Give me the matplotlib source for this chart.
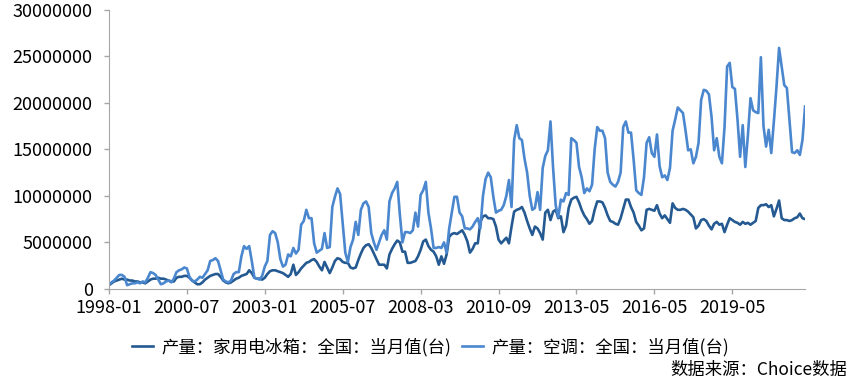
import matplotlib
matplotlib.use("Agg")
import matplotlib.pyplot as plt
from matplotlib.ticker import FuncFormatter, MultipleLocator

plt.rcParams['font.family'] = ['Noto Sans CJK SC', 'DejaVu Sans']

# 月度产量（百万台），按类别轴顺序排列
fridge = [
    0.4, 0.6, 0.8, 0.9, 1.0, 1.1, 1.0, 1.0, 0.9, 0.9,
    0.8, 0.8, 0.7, 0.7, 0.6, 0.8, 1.0, 1.1, 1.1, 1.2,
    1.1, 1.1, 1.0, 0.9, 0.8, 0.8, 1.2, 1.3, 1.3, 1.4,
    1.4, 1.2, 0.9, 0.7, 0.5, 0.5, 0.7, 1.0, 1.2, 1.4,
    1.5, 1.6, 1.6, 1.3, 0.9, 0.7, 0.6, 0.7, 0.9, 1.1,
    1.2, 1.4, 1.5, 1.6, 2.0, 1.7, 1.2, 1.1, 1.1, 1.0,
    1.2, 1.6, 1.9, 2.0, 2.0, 1.9, 1.8, 1.7, 1.5, 1.3,
    1.6, 2.6, 1.5, 1.8, 2.2, 2.5, 2.8, 2.9, 3.1, 3.2,
    2.9, 2.4, 2.0, 2.9, 2.3, 1.7, 2.3, 3.0, 3.3, 3.2,
    2.9, 2.8, 2.8, 2.3, 2.2, 2.3, 3.1, 3.8, 4.4, 4.7,
    4.8, 4.4, 3.8, 3.2, 2.6, 2.6, 2.6, 2.2, 3.7, 4.3,
    4.8, 5.2, 5.0, 4.0, 4.0, 2.8, 2.8, 2.9, 3.0, 3.5,
    4.2, 5.1, 5.3, 4.6, 4.2, 4.0, 3.5, 2.6, 3.5, 2.7,
    3.7, 5.6, 5.9, 6.0, 5.9, 6.1, 6.3, 5.8, 5.1, 3.9,
    4.3, 4.9, 4.9, 7.2, 7.8, 7.9, 7.6, 7.6, 7.5, 6.7,
    5.3, 4.9, 5.2, 5.5, 4.9, 6.7, 8.3, 8.5, 8.6, 8.8,
    8.2, 7.3, 6.5, 5.8, 6.7, 6.5, 6.0, 5.3, 8.2, 8.5,
    7.4, 8.3, 8.5, 7.6, 7.8, 6.1, 6.8, 8.7, 9.6, 9.8,
    9.9, 9.3, 8.5, 7.9, 7.5, 7.0, 7.3, 8.5, 9.4, 9.4,
    9.3, 8.7, 7.9, 7.3, 7.2, 7.0, 6.9, 7.6, 8.6, 9.6,
    9.6, 8.8, 8.2, 7.2, 6.8, 6.3, 6.5, 8.5, 8.6, 8.5,
    8.4, 9.0, 8.1, 7.6, 7.9, 7.5, 7.1, 9.2, 8.7, 8.5,
    8.5, 8.6, 8.5, 8.3, 8.0, 7.7, 6.5, 6.8, 7.4, 7.5,
    7.3, 6.8, 6.4, 7.0, 7.2, 6.9, 7.0, 6.1, 6.9, 7.6,
    7.4, 7.2, 7.1, 6.9, 7.2, 7.0, 7.1, 6.9, 7.1, 7.3,
    8.7, 9.0, 9.0, 9.1, 8.8, 9.0, 7.8, 8.6, 9.5, 7.6,
    7.4, 7.4, 7.3, 7.4, 7.6, 7.7, 8.1, 7.6, 7.5,
]

aircon = [
    0.5, 0.7, 0.9, 1.2, 1.5, 1.5, 1.3, 0.4, 0.5, 0.6,
    0.6, 0.7, 0.6, 0.8, 0.7, 1.2, 1.8, 1.7, 1.5, 1.0,
    0.5, 0.6, 0.8, 0.9, 0.7, 1.1, 1.8, 2.0, 2.1, 2.3,
    2.2, 1.3, 0.9, 0.8, 1.0, 1.3, 1.2, 1.6, 2.0, 3.0,
    3.1, 3.3, 3.0, 2.0, 1.0, 0.8, 0.7, 0.9, 1.6, 1.8,
    1.8, 3.5, 4.6, 4.3, 4.6, 3.0, 1.2, 1.1, 1.0, 1.4,
    2.4, 3.0, 5.8, 6.2, 6.0, 5.0, 3.2, 2.4, 2.6, 3.7,
    3.5, 4.4, 3.8, 4.2, 6.9, 7.3, 8.5, 7.6, 7.6, 4.9,
    3.9, 4.1, 4.3, 6.0, 4.4, 4.5, 8.8, 9.9, 10.8, 10.2,
    7.0, 3.9, 2.9, 4.5, 5.3, 7.2, 5.8, 8.5, 9.2, 9.4,
    8.8, 6.0, 5.0, 4.2, 5.0, 5.8, 6.3, 5.3, 9.4, 10.3,
    10.8, 11.5, 8.0, 5.0, 6.1, 6.1, 6.0, 6.3, 8.2, 6.7,
    10.1, 10.6, 11.5, 8.2, 6.5, 4.4, 4.4, 4.5, 4.4, 5.0,
    3.9, 6.5, 8.2, 9.9, 9.9, 8.2, 7.8, 6.5, 6.5, 6.4,
    6.7, 7.2, 7.6, 6.5, 10.0, 11.8, 12.5, 12.0, 9.9, 8.2,
    8.4, 8.5, 9.0, 10.0, 11.7, 8.8, 16.0, 17.6, 16.2, 16.0,
    14.0, 12.5, 10.0, 8.5, 8.7, 10.4, 8.5, 13.0, 14.3, 14.9,
    18.0, 13.0, 9.0, 7.7, 9.6, 9.4, 10.3, 10.1, 16.2, 16.0,
    15.7, 13.1, 12.0, 10.3, 10.8, 10.5, 11.2, 15.0, 17.4, 17.0,
    17.0, 16.2, 12.5, 11.5, 11.2, 11.0, 11.5, 12.5, 17.4, 18.0,
    16.8, 16.8, 13.9, 10.6, 10.3, 10.1, 12.0, 15.7, 16.3, 14.6,
    14.2, 16.6, 13.2, 12.0, 12.2, 11.7, 13.0, 17.0, 18.2, 19.5,
    19.2, 18.9, 17.0, 14.9, 15.0, 13.5, 14.2, 15.7, 20.3, 21.4,
    21.3, 20.9, 18.5, 14.9, 16.2, 14.2, 13.5, 17.4, 23.9, 24.3,
    21.7, 21.5, 18.2, 14.2, 17.6, 13.1, 16.5, 20.5, 19.2, 19.0,
    18.9, 24.9, 17.5, 15.3, 17.1, 14.6, 18.0, 21.7, 25.9, 23.9,
    21.9, 21.6, 18.2, 14.7, 14.6, 14.9, 14.4, 16.0, 19.6,
]

tick_labels = ['1998-01', '2000-07', '2003-01', '2005-07', '2008-03',
               '2010-09', '2013-05', '2016-05', '2019-05']
tick_step = 30

fridge_label = '产量：家用电冰箱：全国：当月值(台)'
aircon_label = '产量：空调：全国：当月值(台)'
source_text = '数据来源：Choice数据'

scale = 1e6
x = list(range(len(aircon)))

fig = plt.figure(figsize=(8.51, 3.92), dpi=100)
ax = fig.add_axes([0.128, 0.263, 0.818, 0.712])

ax.plot(x, [v * scale for v in fridge], color='#245a91', lw=1.9, label=fridge_label)
ax.plot(x, [v * scale for v in aircon], color='#4a87cf', lw=1.9, label=aircon_label)

ax.set_xlim(0, len(aircon) - 1)
ax.set_ylim(0, 30000000)
ax.yaxis.set_major_locator(MultipleLocator(5000000))
ax.yaxis.set_major_formatter(FuncFormatter(lambda v, p: '%d' % v))
ax.set_xticks([i * tick_step for i in range(len(tick_labels))])
ax.set_xticklabels(tick_labels)

for side in ['top', 'right']:
    ax.spines[side].set_visible(False)
for side in ['left', 'bottom']:
    ax.spines[side].set_color('#a6a6a6')
ax.tick_params(axis='both', colors='#a6a6a6', length=3.6, width=1,
               labelcolor='black', labelsize=13)
ax.tick_params(axis='y', pad=8)
ax.tick_params(axis='x', pad=4)

fig.legend(loc='center', bbox_to_anchor=(0.506, 0.115), ncol=2, frameon=False,
           fontsize=12.5, handlelength=1.2, handletextpad=0.5, columnspacing=0.6)
fig.text(0.996, 0.055, source_text, ha='right', va='center', fontsize=12.5)

fig.savefig('out.png', dpi=100)
